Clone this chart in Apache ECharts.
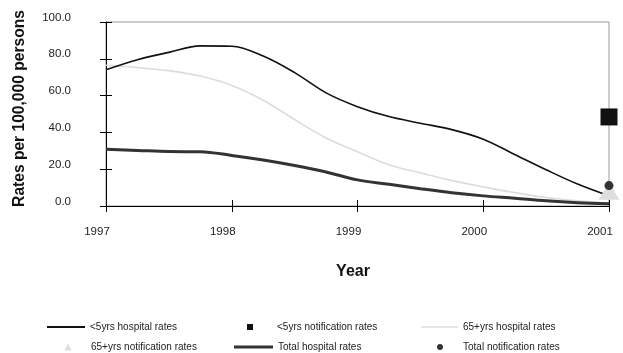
<!DOCTYPE html>
<html>
<head>
<meta charset="utf-8">
<script src="https://cdn.jsdelivr.net/npm/echarts@6/dist/echarts.min.js"></script>
<style>
  html, body { margin: 0; padding: 0; background: #fff; }
  #chart { width: 623px; height: 353px; }
</style>
</head>
<body>
<div id="chart"></div>
<script>
// Quarterly time points, 1997 to 2001
const years = [1997, 1997.25, 1997.5, 1997.75, 1998, 1998.25, 1998.5, 1998.75,
               1999, 1999.25, 1999.5, 1999.75, 2000, 2000.25, 2000.5, 2000.75, 2001];

// Hospitalisation rates per 100,000 persons
const under5Hospital = [74.0, 79.5, 83.5, 87.0, 86.8, 81.5, 72.5, 61.5,
                        54.0, 48.6, 45.0, 41.5, 36.3, 28.0, 19.7, 11.9, 5.5];
const over65Hospital = [76.5, 75.3, 73.5, 70.6, 65.5, 57.5, 47.0, 37.0,
                        29.5, 22.4, 18.0, 13.8, 10.4, 7.3, 4.6, 2.8, 1.5];
const totalHospital  = [30.8, 30.2, 29.6, 29.5, 27.5, 25.0, 22.0, 18.5,
                        14.2, 11.8, 9.4, 7.2, 5.5, 4.2, 2.8, 1.8, 1.2];

// Notification rates (2001 only)
const notifYear = 2001;
const under5Notif = 48.4;
const over65Notif = 8.0;
const totalNotif = 11.1;

const yTicks = [0, 20, 40, 60, 80, 100];

const pair = (xs, ys) => xs.map((x, i) => [x, ys[i]]);

const FONT = '"Liberation Sans", Arial, sans-serif';

const chart = echarts.init(document.getElementById('chart'), null, { renderer: 'canvas' });

const legendBase = {
  orient: 'horizontal',
  padding: 0,
  itemGap: 0,
  selectedMode: false,
  textStyle: { fontFamily: FONT, fontSize: 10, color: '#222' }
};

chart.setOption({
  animation: false,
  backgroundColor: '#fff',
  grid: {
    left: 106, right: 14, top: 22, bottom: 147,
    show: true, borderColor: '#999', borderWidth: 1, backgroundColor: 'transparent'
  },
  xAxis: [{
    type: 'value', min: 1997, max: 2001, interval: 1,
    position: 'bottom',
    name: 'Year', nameLocation: 'middle', nameGap: 58,
    nameTextStyle: { fontFamily: FONT, fontSize: 16, fontWeight: 'bold', color: '#111',
                     padding: [0, 9, 0, 0] },
    axisLine: { show: true, lineStyle: { color: '#000', width: 1 } },
    axisTick: { show: true, inside: false, length: 6, lineStyle: { color: '#000' } },
    axisLabel: { fontFamily: FONT, fontSize: 11.5, color: '#222', margin: 20,
                 padding: [0, 18, 0, 0], formatter: v => String(v) },
    splitLine: { show: false }
  }, {
    type: 'value', min: 1997, max: 2001, interval: 1,
    position: 'bottom',
    axisLine: { show: false },
    axisTick: { show: true, inside: true, length: 6, lineStyle: { color: '#000' } },
    axisLabel: { show: false },
    splitLine: { show: false }
  }],
  yAxis: [{
    type: 'value', min: yTicks[0], max: yTicks[yTicks.length - 1], interval: 20,
    position: 'left',
    axisLine: { show: true, lineStyle: { color: '#000', width: 1 } },
    axisTick: { show: true, inside: false, length: 6, lineStyle: { color: '#000' } },
    axisLabel: { fontFamily: FONT, fontSize: 11.5, color: '#222', margin: 35,
                 verticalAlign: 'bottom', lineHeight: 9,
                 formatter: v => v.toFixed(1) },
    splitLine: { show: false }
  }, {
    type: 'value', min: yTicks[0], max: yTicks[yTicks.length - 1], interval: 20,
    position: 'left',
    axisLine: { show: false },
    axisTick: { show: true, inside: true, length: 6, lineStyle: { color: '#000' } },
    axisLabel: { show: false },
    splitLine: { show: false }
  }],
  graphic: [{
    type: 'text',
    x: 20, y: 108.5,
    rotation: Math.PI / 2,
    style: {
      text: 'Rates per 100,000 persons',
      font: 'bold 15.6px ' + FONT,
      fill: '#111',
      align: 'center',
      verticalAlign: 'middle'
    }
  }],
  legend: [
    Object.assign({}, legendBase, {
      left: 47, top: 322, itemWidth: 38, itemHeight: 2, icon: 'rect',
      data: ['<5yrs hospital rates']
    }),
    Object.assign({}, legendBase, {
      left: 247, top: 322, itemWidth: 6, itemHeight: 6, icon: 'rect',
      textStyle: Object.assign({}, legendBase.textStyle, { padding: [0, 0, 0, 19] }),
      data: ['<5yrs notification rates']
    }),
    Object.assign({}, legendBase, {
      left: 421, top: 322, itemWidth: 37, itemHeight: 1.5, icon: 'rect',
      data: ['65+yrs hospital rates']
    }),
    Object.assign({}, legendBase, {
      left: 64.5, top: 342, itemWidth: 7, itemHeight: 7, icon: 'triangle',
      textStyle: Object.assign({}, legendBase.textStyle, { padding: [0, 0, 0, 14.5] }),
      data: ['65+yrs notification rates']
    }),
    Object.assign({}, legendBase, {
      left: 234, top: 342, itemWidth: 39, itemHeight: 3, icon: 'rect',
      data: ['Total hospital rates']
    }),
    Object.assign({}, legendBase, {
      left: 437, top: 342, itemWidth: 6, itemHeight: 6, icon: 'circle',
      textStyle: Object.assign({}, legendBase.textStyle, { padding: [0, 0, 0, 15] }),
      data: ['Total notification rates']
    })
  ],
  series: [
    {
      name: '65+yrs hospital rates', type: 'line', smooth: 0.35, symbol: 'none',
      data: pair(years, over65Hospital),
      itemStyle: { color: '#dcdcdc' },
      lineStyle: { color: '#dcdcdc', width: 1.6 }, z: 2
    },
    {
      name: 'Total hospital rates', type: 'line', smooth: 0.35, symbol: 'none',
      data: pair(years, totalHospital),
      itemStyle: { color: '#333' },
      lineStyle: { color: '#333', width: 3 }, z: 3
    },
    {
      name: '<5yrs hospital rates', type: 'line', smooth: 0.35, symbol: 'none',
      data: pair(years, under5Hospital),
      itemStyle: { color: '#111' },
      lineStyle: { color: '#111', width: 1.6 }, z: 4
    },
    {
      name: '65+yrs notification rates', type: 'scatter', clip: false,
      symbol: 'triangle', symbolSize: [21, 17],
      data: [[notifYear, over65Notif]],
      itemStyle: { color: '#dddddd', opacity: 1 }, z: 5
    },
    {
      name: 'Total notification rates', type: 'scatter', clip: false,
      symbol: 'circle', symbolSize: 9,
      data: [[notifYear, totalNotif]],
      itemStyle: { color: '#333', opacity: 1 }, z: 6
    },
    {
      name: '<5yrs notification rates', type: 'scatter', clip: false,
      symbol: 'rect', symbolSize: 17,
      data: [[notifYear, under5Notif]],
      itemStyle: { color: '#111', opacity: 1 }, z: 6
    }
  ]
});
</script>
</body>
</html>
